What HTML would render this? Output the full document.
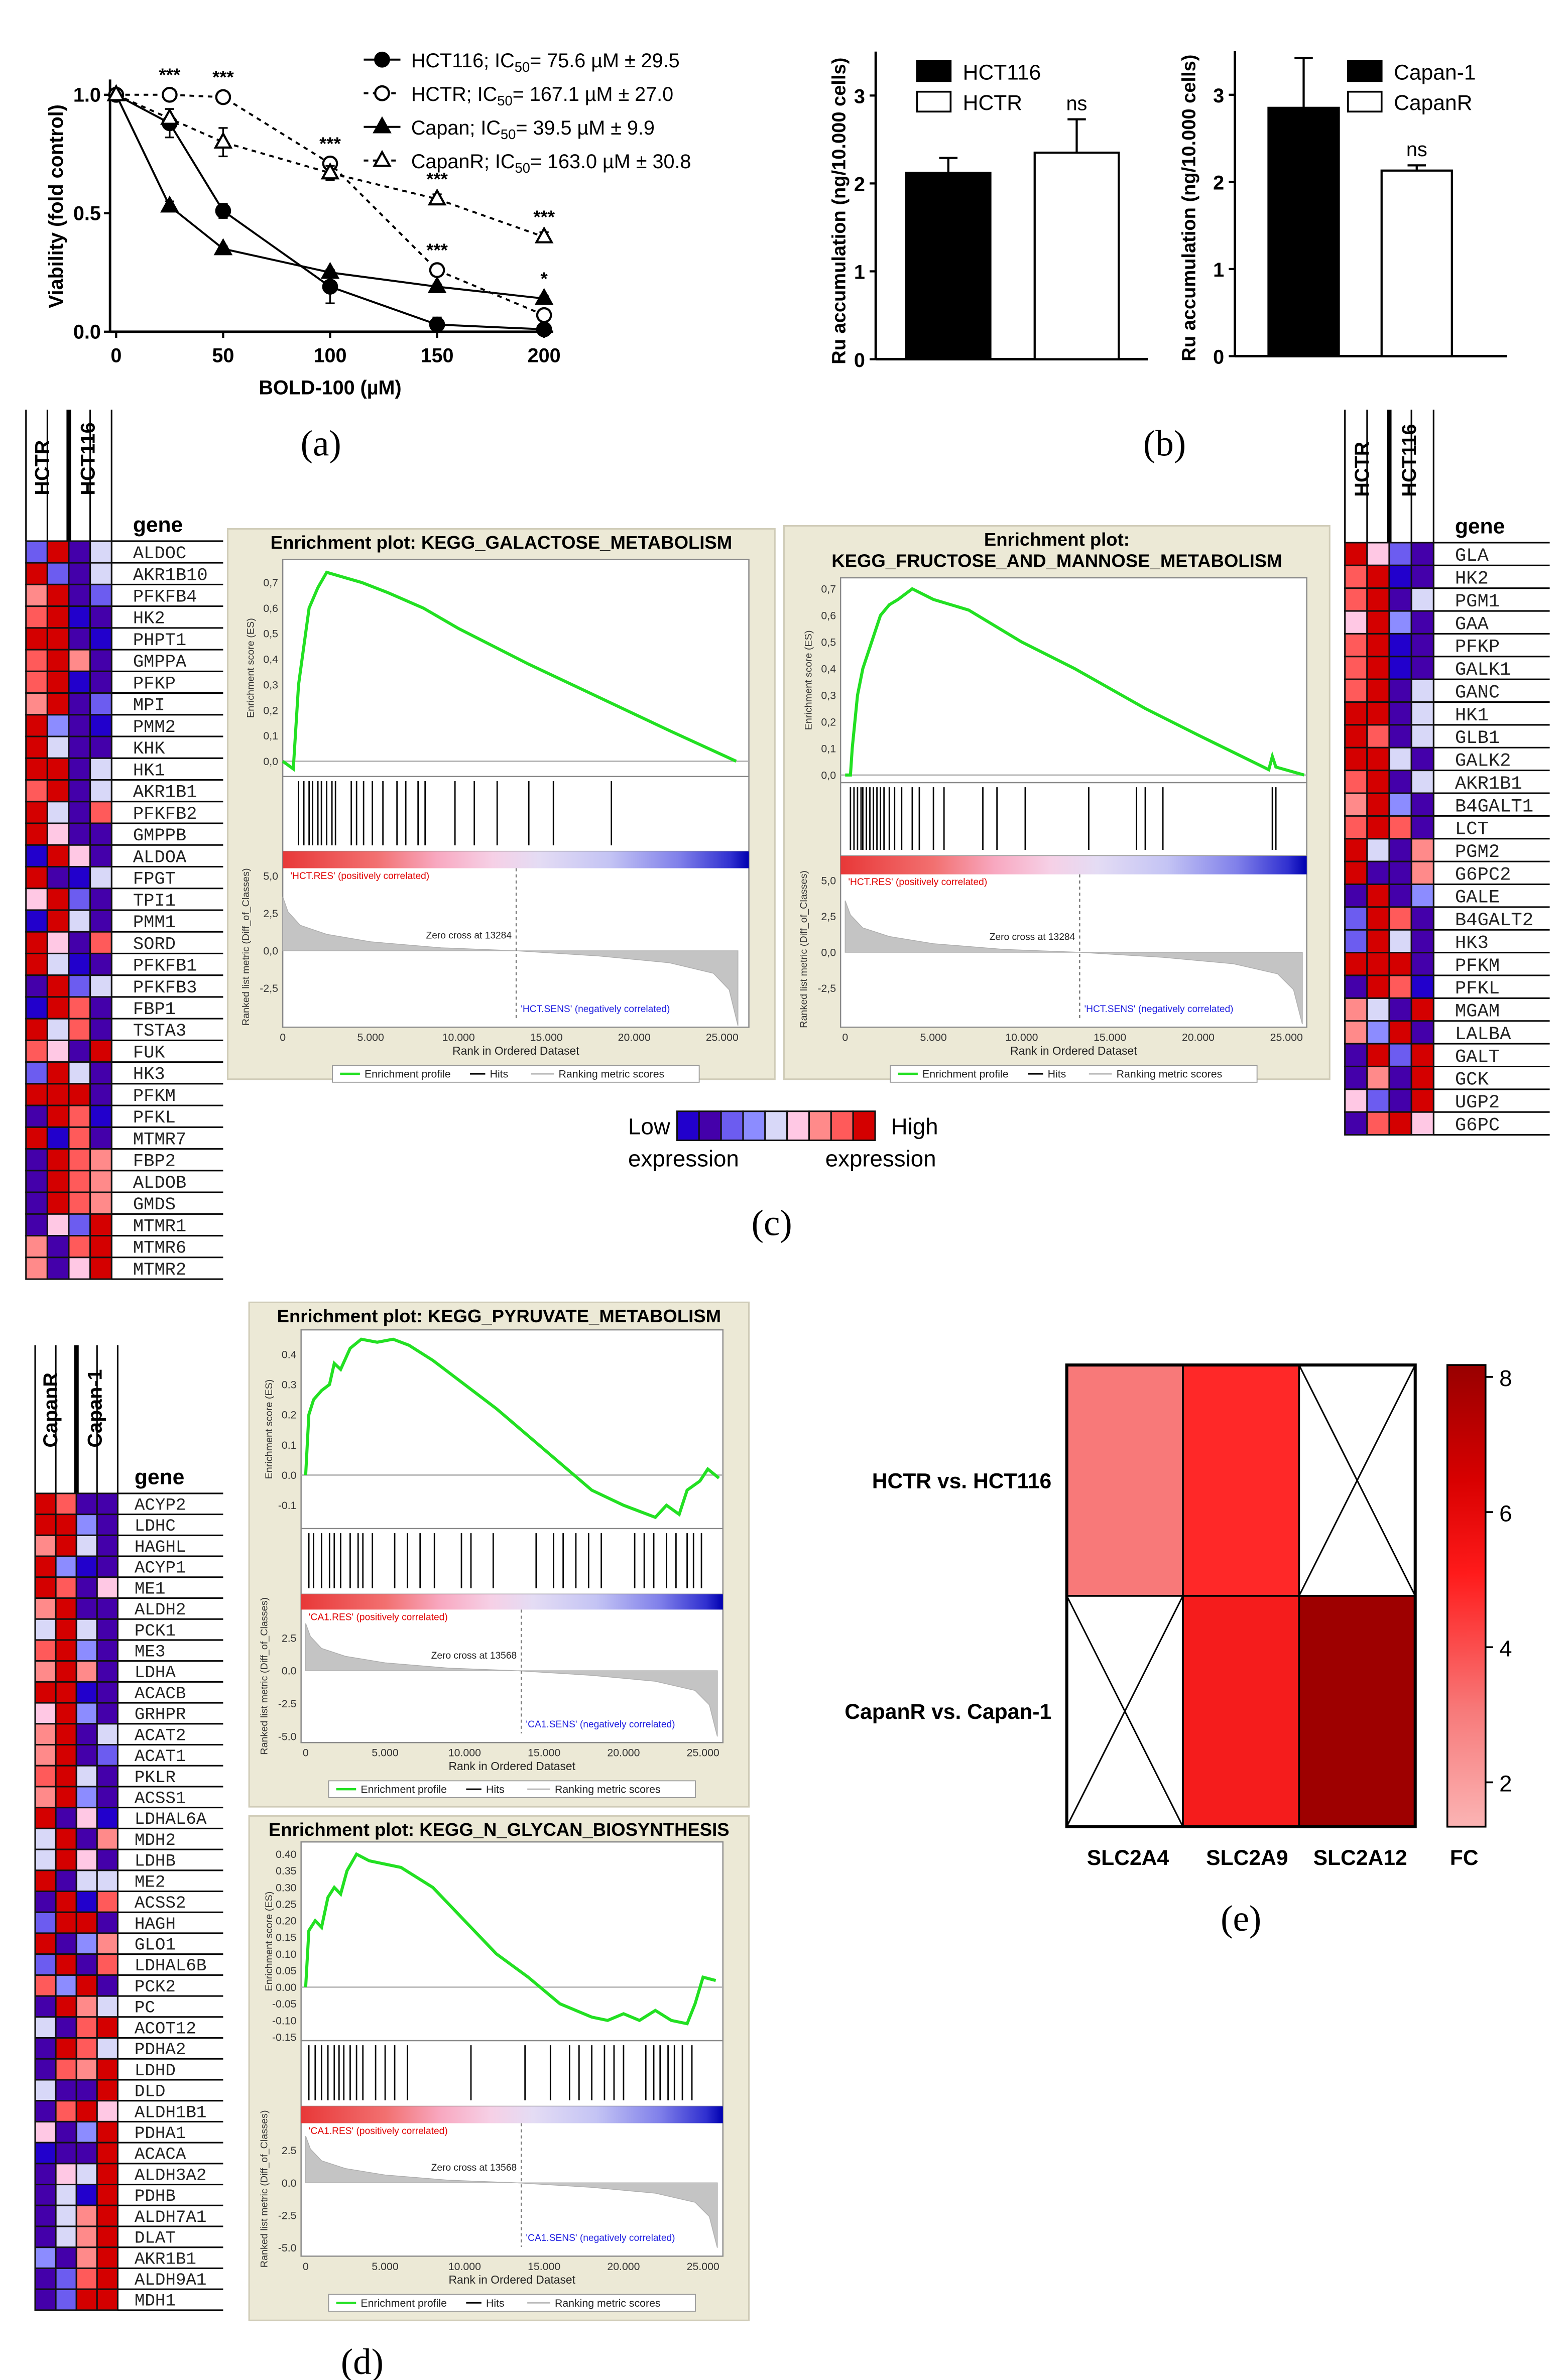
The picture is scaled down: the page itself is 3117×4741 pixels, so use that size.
<!DOCTYPE html>
<html><head><meta charset="utf-8"><style>
html,body{margin:0;padding:0;background:#fff;}
svg{display:block;font-family:"Liberation Sans",sans-serif;}
</style></head><body>
<svg id="fig" xmlns="http://www.w3.org/2000/svg" width="3117" height="4741" viewBox="0 0 1024 1557" preserveAspectRatio="none">
<rect x="0" y="0" width="1024" height="1557" fill="#fff"/>
<defs>
<linearGradient id="rankbar" x1="0" x2="1" y1="0" y2="0">
<stop offset="0" stop-color="#e83838"/><stop offset="0.2" stop-color="#f27070"/><stop offset="0.33" stop-color="#f8a8c0"/><stop offset="0.45" stop-color="#f6d0e6"/><stop offset="0.55" stop-color="#e4dcf4"/><stop offset="0.7" stop-color="#c4c4f4"/><stop offset="0.85" stop-color="#8080ea"/><stop offset="0.96" stop-color="#3030d0"/><stop offset="1" stop-color="#0000b0"/>
</linearGradient>
<linearGradient id="fcbar" x1="0" x2="0" y1="1" y2="0">
<stop offset="0" stop-color="#fbb4b4"/><stop offset="0.25" stop-color="#f77a7a"/><stop offset="0.55" stop-color="#ff1a1a"/><stop offset="0.75" stop-color="#d80000"/><stop offset="1" stop-color="#980000"/>
</linearGradient>
</defs>
</svg>
<script>
// ---------- DATA ----------
const doses=[0,25,50,100,150,200];
const viabHCT116=[1.0,0.88,0.51,0.19,0.03,0.01];
const viabHCTR=[1.0,1.0,0.99,0.71,0.26,0.07];
const viabCapan=[1.0,0.53,0.35,0.25,0.19,0.14];
const viabCapanR=[1.0,0.9,0.8,0.67,0.56,0.40];
const errHCT116=[0,0.06,0.03,0.07,0.03,0.01];
const errHCTR=[0,0.02,0.01,0.02,0.02,0.01];
const errCapan=[0,0.02,0.01,0.01,0.01,0.01];
const errCapanR=[0,0.04,0.06,0.03,0.02,0.02];
const legendA=["HCT116; IC","HCTR; IC","Capan; IC","CapanR; IC"];
const legendAVal=["= 75.6 µM ± 29.5","= 167.1 µM ± 27.0","= 39.5 µM ± 9.9","= 163.0 µM ± 30.8"];
const aXTicks=[0,50,100,150,200];
const aYTicks=[0,0.5,1.0];

const ruCats1=["HCT116","HCTR"];const ruVals1=[2.12,2.35];const ruErr1=[0.17,0.38];
const ruCats2=["Capan-1","CapanR"];const ruVals2=[2.85,2.13];const ruErr2=[0.57,0.06];
const ruTicks=[0,1,2,3];

const genesC1=["ALDOC","AKR1B10","PFKFB4","HK2","PHPT1","GMPPA","PFKP","MPI","PMM2","KHK","HK1","AKR1B1","PFKFB2","GMPPB","ALDOA","FPGT","TPI1","PMM1","SORD","PFKFB1","PFKFB3","FBP1","TSTA3","FUK","HK3","PFKM","PFKL","MTMR7","FBP2","ALDOB","GMDS","MTMR1","MTMR6","MTMR2"];
const cellsC1=["mRPl","RmPl","pRPm","rRBP","RRPB","rRpP","rRBP","pRPm","RbPB","RlPP","RRPl","rRPl","RlPr","RkPP","BRkP","RPBl","kRmP","BRlP","RkPr","RlBP","PRml","BRrP","RlrP","rkPR","mRlP","RRRP","PRrB","RBrP","PRrp","PRrp","PRrp","PkmR","pPrR","pPkR"];
const genesC2=["GLA","HK2","PGM1","GAA","PFKP","GALK1","GANC","HK1","GLB1","GALK2","AKR1B1","B4GALT1","LCT","PGM2","G6PC2","GALE","B4GALT2","HK3","PFKM","PFKL","MGAM","LALBA","GALT","GCK","UGP2","G6PC"];
const cellsC2=["RkmP","rRBP","rRPl","kRbP","rRBP","rRBP","rRPl","RRPl","RrPl","RRlP","rRPl","pRbP","rRrP","RlPp","RPPp","PRPb","mRrP","mRlP","RRRP","PRrB","plPR","pbRP","PRmR","PpPR","kmPR","PrRk"];
const genesD=["ACYP2","LDHC","HAGHL","ACYP1","ME1","ALDH2","PCK1","ME3","LDHA","ACACB","GRHPR","ACAT2","ACAT1","PKLR","ACSS1","LDHAL6A","MDH2","LDHB","ME2","ACSS2","HAGH","GLO1","LDHAL6B","PCK2","PC","ACOT12","PDHA2","LDHD","DLD","ALDH1B1","PDHA1","ACACA","ALDH3A2","PDHB","ALDH7A1","DLAT","AKR1B1","ALDH9A1","MDH1"];
const cellsD=["RrPP","RRbP","pRlP","RbBP","RrPk","pRPP","lRlP","rRbP","pRpP","RRBP","kRbP","pRPl","pRPm","rRlP","pRbP","RPkB","lRPp","lRkP","RPll","PRBr","mRRP","RPbp","mRPr","rbRP","PRpl","lPrR","PRrl","PrpR","lPPR","PrRk","kPbR","BPPR","PklR","PlBR","PlpR","PlpR","bPpR","PmrR","PmRR"];
const HM={R:"#d40000",r:"#ff5a5a",p:"#ff8a8a",k:"#ffc8e4",l:"#d8d8f8",b:"#8c8cff",m:"#6c5cf0",B:"#2200cc",P:"#4400aa"};

const esRank1=[0,600,900,1200,1500,2000,2500,3500,4500,6000,8000,10000,12000,14000,18000,22000,25800];
const esVal1=[0,-0.03,0.3,0.45,0.6,0.68,0.74,0.72,0.7,0.66,0.6,0.52,0.45,0.38,0.25,0.12,0];
const hits1=[900,1200,1500,1700,2000,2200,2500,2800,3000,3900,4200,4600,5100,5700,6500,7000,7700,8100,9800,10900,12200,14000,15400,18700];
const esRank2=[0,300,400,700,1000,1500,2000,2500,3000,3800,5000,7000,10000,13000,17000,20000,24000,24200,24400,26000];
const esVal2=[0,0,0.1,0.3,0.4,0.5,0.6,0.64,0.66,0.7,0.66,0.62,0.5,0.4,0.25,0.15,0.02,0.07,0.03,0];
const hits2=[300,500,700,900,1000,1200,1400,1600,1800,2000,2200,2500,2800,3200,3800,4200,5000,5600,7800,8600,10200,13800,16500,17000,18000,24200,24400];
const esRank3=[0,200,500,1000,1500,1800,2200,2800,3500,4500,5500,6500,8000,10000,12000,14000,16000,18000,20000,22000,22700,23500,24000,24800,25300,26000];
const esVal3=[0,0.2,0.25,0.28,0.3,0.37,0.35,0.42,0.45,0.44,0.45,0.43,0.38,0.3,0.22,0.13,0.04,-0.05,-0.1,-0.14,-0.1,-0.13,-0.05,-0.02,0.02,-0.01];
const hits3=[200,500,1000,1500,1800,2200,2800,3300,3600,4200,5600,6400,7200,8100,9800,10400,11800,14500,15600,16200,17000,17800,18600,20700,21300,21900,22700,23300,24000,24400,24900];
const esRank4=[0,200,600,1000,1400,1800,2200,2600,3200,4000,5000,6000,8000,10000,12000,14000,16000,18000,19000,20000,21000,22000,23000,24000,24500,25000,25800];
const esVal4=[0,0.17,0.2,0.18,0.27,0.3,0.28,0.35,0.4,0.38,0.37,0.36,0.3,0.2,0.1,0.03,-0.05,-0.09,-0.1,-0.08,-0.1,-0.07,-0.1,-0.11,-0.05,0.03,0.02];
const hits4=[200,600,1000,1400,1800,2100,2400,2800,3200,3600,4400,5000,5600,6400,10400,13800,15400,16600,17200,18000,18800,19400,20000,21400,21900,22300,22800,23200,23700,24300];
const metricRank=[0,300,1000,2500,5000,9000,13300,18000,22000,24500,25400,25900];
const metricVal=[3.6,2.6,1.7,1.1,0.6,0.2,0,-0.35,-0.8,-1.5,-2.6,-5];
const rankTicks=[0,5000,10000,15000,20000,25000];

const fcCols=["SLC2A4","SLC2A9","SLC2A12"];
const fcRows=["HCTR vs. HCT116","CapanR vs. Capan-1"];
const fcVals=[[3.2,5.0,null],[null,5.3,8.0]];
const fcTicks=[2,4,6,8];

// ---------- HELPERS ----------
const NS="http://www.w3.org/2000/svg";
const svg=document.getElementById("fig");
function mk(tag,a,p){const e=document.createElementNS(NS,tag);for(const k in a)e.setAttribute(k,a[k]);(p||svg).appendChild(e);return e;}
function tx(x,y,s,a,p){const e=mk("text",Object.assign({x:x,y:y},a||{}),p);e.textContent=s;return e;}

// ---------- PANEL A ----------
const gA=mk("g",{});


const ax=d=>76+d*1.4, ay=v=>217-v*155;
let e=mk("line",{x1:72,y1:52,x2:72,y2:217,stroke:"#000","stroke-width":1.6},gA);

e=mk("line",{x1:72,y1:217,x2:362,y2:217,stroke:"#000","stroke-width":1.6},gA);

aXTicks.forEach(d=>{mk("line",{x1:ax(d),y1:217,x2:ax(d),y2:221,stroke:"#000","stroke-width":1.4},gA);
 const t=tx(ax(d),237,String(d),{"font-size":13,"font-weight":"bold","text-anchor":"middle"},gA);
 });
aYTicks.forEach(v=>{mk("line",{x1:68,y1:ay(v),x2:72,y2:ay(v),stroke:"#000","stroke-width":1.4},gA);
 const t=tx(66,ay(v)+4.5,v.toFixed(1),{"font-size":13,"font-weight":"bold","text-anchor":"end"},gA);
 });
e=tx(216,258,"BOLD-100 (µM)",{"font-size":13,"font-weight":"bold","text-anchor":"middle"},gA);

e=tx(0,0,"Viability (fold control)",{"font-size":13,"font-weight":"bold","text-anchor":"middle",transform:"translate(41,135) rotate(-90)"},gA);

const seriesA=[[viabHCT116,errHCT116,"fc",""],[viabHCTR,errHCTR,"oc","3,3"],[viabCapan,errCapan,"ft",""],[viabCapanR,errCapanR,"ot","3,3"]];
function marker(type,x,y,p){let m;
 if(type[1]==="c")m=mk("circle",{cx:x,cy:y,r:4.5,fill:type[0]==="f"?"#000":"#fff",stroke:"#000","stroke-width":1.4},p);
 else m=mk("polygon",{points:`${x},${y-5.5} ${x+5},${y+3.5} ${x-5},${y+3.5}`,fill:type[0]==="f"?"#000":"#fff",stroke:"#000","stroke-width":1.4},p);
 return m;}
seriesA.forEach((s,si)=>{
 const pl=mk("polyline",{points:doses.map((d,i)=>ax(d)+","+ay(s[0][i])).join(" "),fill:"none",stroke:"#000","stroke-width":1.3,"stroke-dasharray":s[3]},gA);
 
 doses.forEach((d,i)=>{if(s[1][i]>0){const el=mk("path",{d:`M${ax(d)},${ay(s[0][i]-s[1][i])}V${ay(s[0][i]+s[1][i])}M${ax(d)-3},${ay(s[0][i]-s[1][i])}h6M${ax(d)-3},${ay(s[0][i]+s[1][i])}h6`,stroke:"#000","stroke-width":1.1},gA);
  }
  const m=marker(s[2],ax(d),ay(s[0][i]),gA);
  });
});
const stars=[[25,1.0,"***"],[50,0.99,"***"],[100,0.71,"***"],[150,0.56,"***"],[150,0.26,"***"],[200,0.40,"***"],[200,0.14,"*"]];
stars.forEach(s=>{const t=tx(ax(s[0]),ay(s[1])-9,s[2],{"font-size":12,"font-weight":"bold","text-anchor":"middle"},gA);
 });
legendA.forEach((l,i)=>{const y=39+i*22;
 const ln=mk("line",{x1:238,y1:y,x2:262,y2:y,stroke:"#000","stroke-width":1.3,"stroke-dasharray":seriesA[i][3]},gA);
 
 const m=marker(seriesA[i][2],250,y,gA);
 const t=tx(269,y+5,"",{"font-size":13},gA);
 const t1=mk("tspan",{},t);t1.textContent=l;const t2=mk("tspan",{"font-size":9,dy:3},t);t2.textContent="50";const t3=mk("tspan",{dy:-3},t);t3.textContent=legendAVal[i];});
e=tx(210,298,"(a)",{"font-size":24,"font-family":"Liberation Serif, serif","text-anchor":"middle"});


// ---------- PANEL B ----------
function barChart(cats,vals,errs,x0,y0,k,barX,barW,legX,name,yLabX){
 const g=mk("g",{});
 
 const by=v=>y0-v*k;
 let a=mk("line",{x1:x0,y1:by(3.5),x2:x0,y2:y0,stroke:"#000","stroke-width":1.6},g);
 
 a=mk("line",{x1:x0,y1:y0,x2:x0+178,y2:y0,stroke:"#000","stroke-width":1.6},g);
 
 ruTicks.forEach(v=>{mk("line",{x1:x0-4,y1:by(v),x2:x0,y2:by(v),stroke:"#000","stroke-width":1.4},g);
  const t=tx(x0-7,by(v)+5,String(v),{"font-size":13,"font-weight":"bold","text-anchor":"end"},g);
  });
 cats.forEach((c,i)=>{const x=barX[i];
  const r=mk("rect",{x:x,y:by(vals[i]),width:barW,height:vals[i]*k,fill:i===0?"#000":"#fff",stroke:"#000","stroke-width":1.4},g);
  
  const eb=mk("path",{d:`M${x+barW/2},${by(vals[i])}V${by(vals[i]+errs[i])}M${x+barW/2-6},${by(vals[i]+errs[i])}h12`,stroke:"#000","stroke-width":1.4},g);
  
  const lr=mk("rect",{x:legX,y:40+i*20,width:22,height:13,fill:i===0?"#000":"#fff",stroke:"#000","stroke-width":1.2},g);
  
  const lt=tx(legX+30,52+i*20,c,{"font-size":14},g);
  });
 const ns=tx(barX[1]+barW/2,by(vals[1]+errs[1])-6,"ns",{"font-size":13,"text-anchor":"middle"},g);
 
 const yl=tx(0,0,"Ru accumulation (ng/10.000 cells)",{"font-size":12.5,"font-weight":"bold","text-anchor":"middle",transform:`translate(${yLabX},${y0-97}) rotate(-90)`},g);
 
}
barChart(ruCats1,ruVals1,ruErr1,573,235,57.5,[593,677],55,600,"ru-chart-hct",553);
barChart(ruCats2,ruVals2,ruErr2,808,233,57,[830,904],46,882,"ru-chart-capan",782);
e=tx(762,298,"(b)",{"font-size":24,"font-family":"Liberation Serif, serif","text-anchor":"middle"});


// ---------- HEATMAPS ----------
function heatmap(genes,cells,cols,cw,top,rh,labEnd,labX,headTop,h1,h2,name){
 const g=mk("g",{});
 
 const right=cols[3]+cw,bottom=top+genes.length*rh;
 cols.forEach(cx=>{mk("line",{x1:cx,y1:headTop,x2:cx,y2:top,stroke:"#000","stroke-width":1},g);});
 mk("line",{x1:right,y1:headTop,x2:right,y2:bottom,stroke:"#000","stroke-width":1},g);
 mk("line",{x1:cols[2],y1:headTop,x2:cols[2],y2:top,stroke:"#000","stroke-width":3},g);
 const hA=tx(0,0,h1,{"font-size":13,"font-weight":"bold",transform:`translate(${cols[1]+1},${top-30}) rotate(-90)`},g);
 
 const hB=tx(0,0,h2,{"font-size":13,"font-weight":"bold",transform:`translate(${cols[3]+3},${top-30}) rotate(-90)`},g);
 
 const gh=tx(labX,top-6,"gene",{"font-size":14,"font-weight":"bold"},g);
 
 mk("line",{x1:right,y1:top,x2:labEnd,y2:top,stroke:"#000","stroke-width":1},g);
 genes.forEach((gn,i)=>{const y=top+i*rh;
  for(let j=0;j<4;j++){const c=mk("rect",{x:cols[j],y:y,width:cw,height:rh,fill:HM[cells[i][j]],stroke:"#111","stroke-width":1},g);
   }
  mk("line",{x1:right,y1:y+rh,x2:labEnd,y2:y+rh,stroke:"#000","stroke-width":1},g);
  const t=tx(labX,y+rh-3,gn,{"font-size":rh*0.82,"font-family":"Liberation Mono, monospace",fill:"#222"},g);
  });
}
heatmap(genesC1,cellsC1,[17,31,45,59],14,354,14.2,146,87,268,"HCTR","HCT116","heatmap-hct-galactose");
heatmap(genesC2,cellsC2,[880,894.5,909,923.5],14.5,355,14.9,1014,952,268,"HCTR","HCT116","heatmap-hct-fructose");
heatmap(genesD,cellsD,[23,36.5,50,63.5],13.5,977,13.7,146,88,880,"CapanR","Capan-1","heatmap-capan-pyruvate");

// ---------- GSEA ----------
function gsea(c,esR,esV,hits){
 const g=mk("g",{});
 
 const sx=r=>c.x0+r/1000*c.k, sy=v=>c.esZero-v*c.esK, my=v=>c.mZero-v*c.mK;
 const box=mk("rect",{x:c.bx,y:c.by,width:c.bw,height:c.bh,fill:"#ece9d6",stroke:"#d0ccb8"},g);
 
 c.title.forEach((t,i)=>{const tt=tx(c.bx+c.bw/2,c.by+13+i*14,t,{"font-size":12,"font-weight":"bold","text-anchor":"middle"},g);
  });
 const L=c.pl,R=c.pr;
 mk("rect",{x:L,y:c.esTop,width:R-L,height:c.mBot-c.esTop,fill:"#fff",stroke:"#888","stroke-width":0.8},g);
 mk("line",{x1:L,y1:c.esBot,x2:R,y2:c.esBot,stroke:"#888","stroke-width":0.8},g);
 mk("line",{x1:L,y1:c.hitBot,x2:R,y2:c.hitBot,stroke:"#888","stroke-width":0.8},g);
 mk("line",{x1:L,y1:sy(0),x2:R,y2:sy(0),stroke:"#aaa","stroke-width":0.8},g);
 c.esTicks.forEach((v,i)=>{const t=tx(L-3,sy(v)+2.5,c.esTickLab[i],{"font-size":7,"text-anchor":"end",fill:"#333"},g);
  });
 const ey=tx(0,0,"Enrichment score (ES)",{"font-size":6.5,"text-anchor":"middle",fill:"#333",transform:`translate(${L-19},${(c.esTop+c.esBot)/2}) rotate(-90)`},g);
 
 const curve=mk("polyline",{points:esR.map((r,i)=>sx(r)+","+sy(esV[i])).join(" "),fill:"none",stroke:"#22e022","stroke-width":2},g);
 
 hits.forEach(h=>{const l=mk("line",{x1:sx(h),y1:c.esBot+3,x2:sx(h),y2:c.hitBot-4,stroke:"#000","stroke-width":0.9},g);
  });
 const bar=mk("rect",{x:L,y:c.hitBot,width:R-L,height:c.barH,fill:"url(#rankbar)"},g);
 
 const area="M"+sx(0)+","+my(0)+" "+metricRank.map((r,i)=>"L"+sx(r)+","+my(metricVal[i])).join(" ")+" L"+sx(25900)+","+my(0)+"Z";
 const ar=mk("path",{d:area,fill:"#c4c4c4",stroke:"#b0b0b0","stroke-width":0.5},g);
 
 c.mTicks.forEach((v,i)=>{const t=tx(L-3,my(v)+2.5,c.mTickLab[i],{"font-size":7,"text-anchor":"end",fill:"#333"},g);
  });
 const my2=tx(0,0,"Ranked list metric (Diff_of_Classes)",{"font-size":6.5,"text-anchor":"middle",fill:"#333",transform:`translate(${L-22},${(c.hitBot+c.mBot)/2+5}) rotate(-90)`},g);
 
 const zc=mk("line",{x1:sx(c.zero),y1:c.hitBot+c.barH,x2:sx(c.zero),y2:c.mBot-6,stroke:"#777","stroke-width":0.8,"stroke-dasharray":"2,2"},g);
 
 let t=tx(L+5,c.hitBot+c.barH+7,c.posLab,{"font-size":6.3,fill:"#e00000"},g);
 
 t=tx(sx(c.zero)-3,my(0)-8,"Zero cross at "+c.zero,{"font-size":6.3,"text-anchor":"end",fill:"#222"},g);
 
 t=tx(sx(c.zero)+3,c.mBot-10,c.negLab,{"font-size":6.3,fill:"#2020e0"},g);
 
 rankTicks.forEach(r=>{const tt=tx(sx(r),c.mBot+9,r===0?"0":(r/1000).toFixed(3).replace(".",c.tsep),{"font-size":7,"text-anchor":"middle",fill:"#333"},g);
  });
 t=tx((L+R)/2,c.mBot+18,"Rank in Ordered Dataset",{"font-size":7.5,"text-anchor":"middle",fill:"#222"},g);
 
 const ly=c.mBot+25, lx=(L+R)/2-120;
 const lb=mk("rect",{x:lx,y:ly,width:240,height:11,fill:"#fff",stroke:"#999","stroke-width":0.6},g);
 
 mk("line",{x1:lx+5,y1:ly+5.5,x2:lx+18,y2:ly+5.5,stroke:"#22e022","stroke-width":1.5},g);
 t=tx(lx+21,ly+8,"Enrichment profile",{"font-size":7,fill:"#222"},g);
 mk("line",{x1:lx+90,y1:ly+5.5,x2:lx+100,y2:ly+5.5,stroke:"#000","stroke-width":1},g);
 t=tx(lx+103,ly+8,"Hits",{"font-size":7,fill:"#222"},g);
 mk("line",{x1:lx+130,y1:ly+5.5,x2:lx+145,y2:ly+5.5,stroke:"#bbb","stroke-width":1},g);
 t=tx(lx+148,ly+8,"Ranking metric scores",{"font-size":7,fill:"#222"},g);
}
const tC=[0.7,0.6,0.5,0.4,0.3,0.2,0.1,0.0];
gsea({name:"gsea-galactose",bx:149,by:346,bw:358,bh:360,title:["Enrichment plot: KEGG_GALACTOSE_METABOLISM"],pl:185,pr:490,x0:185,k:11.5,
 esTop:366,esBot:508,esZero:498,esK:167,hitBot:557,barH:11,mZero:622,mK:9.8,mBot:672,esTicks:tC,esTickLab:tC.map(v=>v.toFixed(1).replace(".",",")),
 mTicks:[5,2.5,0,-2.5],mTickLab:["5,0","2,5","0,0","-2,5"],zero:13284,posLab:"'HCT.RES' (positively correlated)",negLab:"'HCT.SENS' (negatively correlated)",tsep:"."},esRank1,esVal1,hits1);
gsea({name:"gsea-fructose-mannose",bx:513,by:344,bw:357,bh:362,title:["Enrichment plot:","KEGG_FRUCTOSE_AND_MANNOSE_METABOLISM"],pl:550,pr:855,x0:553,k:11.55,
 esTop:378,esBot:512,esZero:507,esK:174,hitBot:560,barH:12,mZero:623,mK:9.4,mBot:672,esTicks:tC,esTickLab:tC.map(v=>v.toFixed(1).replace(".",",")),
 mTicks:[5,2.5,0,-2.5],mTickLab:["5,0","2,5","0,0","-2,5"],zero:13284,posLab:"'HCT.RES' (positively correlated)",negLab:"'HCT.SENS' (negatively correlated)",tsep:"."},esRank2,esVal2,hits2);
const t3=[0.4,0.3,0.2,0.1,0.0,-0.1];
gsea({name:"gsea-pyruvate",bx:163,by:852,bw:327,bh:330,title:["Enrichment plot: KEGG_PYRUVATE_METABOLISM"],pl:197,pr:473,x0:200,k:10.4,
 esTop:870,esBot:1000,esZero:965,esK:197.5,hitBot:1043,barH:10,mZero:1093,mK:8.6,mBot:1140,esTicks:t3,esTickLab:t3.map(v=>v.toFixed(1)),
 mTicks:[2.5,0,-2.5,-5],mTickLab:["2.5","0.0","-2.5","-5.0"],zero:13568,posLab:"'CA1.RES' (positively correlated)",negLab:"'CA1.SENS' (negatively correlated)",tsep:"."},esRank3,esVal3,hits3);
const t4=[0.40,0.35,0.30,0.25,0.20,0.15,0.10,0.05,0.00,-0.05,-0.10,-0.15];
gsea({name:"gsea-n-glycan",bx:163,by:1188,bw:327,bh:330,title:["Enrichment plot: KEGG_N_GLYCAN_BIOSYNTHESIS"],pl:197,pr:473,x0:200,k:10.4,
 esTop:1205,esBot:1335,esZero:1300,esK:217.5,hitBot:1378,barH:11,mZero:1428,mK:8.5,mBot:1476,esTicks:t4,esTickLab:t4.map(v=>v.toFixed(2)),
 mTicks:[2.5,0,-2.5,-5],mTickLab:["2.5","0.0","-2.5","-5.0"],zero:13568,posLab:"'CA1.RES' (positively correlated)",negLab:"'CA1.SENS' (negatively correlated)",tsep:"."},esRank4,esVal4,hits4);

// expression legend
const legCols=["#2200cc","#4400aa","#6c5cf0","#8c8cff","#d8d8f8","#ffc8e4","#ff8a8a","#ff5a5a","#d40000"];
legCols.forEach((c,i)=>{const r=mk("rect",{x:443+i*14.4,y:727,width:14.4,height:19,fill:c,stroke:"#111","stroke-width":1});
 });
e=tx(411,742,"Low",{"font-size":15});
e=tx(583,742,"High",{"font-size":15});
e=tx(411,763,"expression",{"font-size":15});
e=tx(540,763,"expression",{"font-size":15});
e=tx(505,808,"(c)",{"font-size":24,"font-family":"Liberation Serif, serif","text-anchor":"middle"});

e=tx(237,1553,"(d)",{"font-size":24,"font-family":"Liberation Serif, serif","text-anchor":"middle"});


// ---------- PANEL E ----------
const fcStops=[[1.4,[251,180,180]],[3,[247,130,130]],[5,[255,40,40]],[6,[220,0,0]],[8.2,[152,0,0]]];
function fcColor(v){for(let i=1;i<fcStops.length;i++){if(v<=fcStops[i][0]){const a=fcStops[i-1],b=fcStops[i],f=(v-a[0])/(b[0]-a[0]);return "rgb("+a[1].map((c,j)=>Math.round(c+(b[1][j]-c)*f)).join(",")+")";}}return "rgb(152,0,0)";}
const ex0=698,ey0=893,cW=76,cH=151;
fcRows.forEach((rn,i)=>{fcCols.forEach((cn,j)=>{const x=ex0+j*cW,y=ey0+i*cH,v=fcVals[i][j];
 const r=mk("rect",{x:x,y:y,width:cW,height:cH,fill:v==null?"#fff":fcColor(v),stroke:"#000","stroke-width":1.2});
 
 if(v==null){const xx=mk("path",{d:`M${x},${y}L${x+cW},${y+cH}M${x+cW},${y}L${x},${y+cH}`,stroke:"#000","stroke-width":1});
  }});
 const t=tx(688,ey0+i*cH+cH/2+5,rn,{"font-size":14,"font-weight":"bold","text-anchor":"end"});
 });
const fr=mk("rect",{x:ex0,y:ey0,width:3*cW,height:2*cH,fill:"none",stroke:"#000","stroke-width":2});

const fcLabX=[738,816,890];
fcCols.forEach((cn,j)=>{const t=tx(fcLabX[j],1220,cn,{"font-size":14,"font-weight":"bold","text-anchor":"middle"});
 });
const cb=mk("rect",{x:947,y:893,width:25,height:302,fill:"url(#fcbar)",stroke:"#000","stroke-width":1.2});

const cby=v=>1166-(v-2)*44.2;
fcTicks.forEach(v=>{mk("line",{x1:972,y1:cby(v),x2:977,y2:cby(v),stroke:"#000","stroke-width":1.2});
 const t=tx(981,cby(v)+6,String(v),{"font-size":15});
 });
e=tx(958,1220,"FC",{"font-size":14,"font-weight":"bold","text-anchor":"middle"});

e=tx(812,1263,"(e)",{"font-size":24,"font-family":"Liberation Serif, serif","text-anchor":"middle"});

</script>
</body></html>
